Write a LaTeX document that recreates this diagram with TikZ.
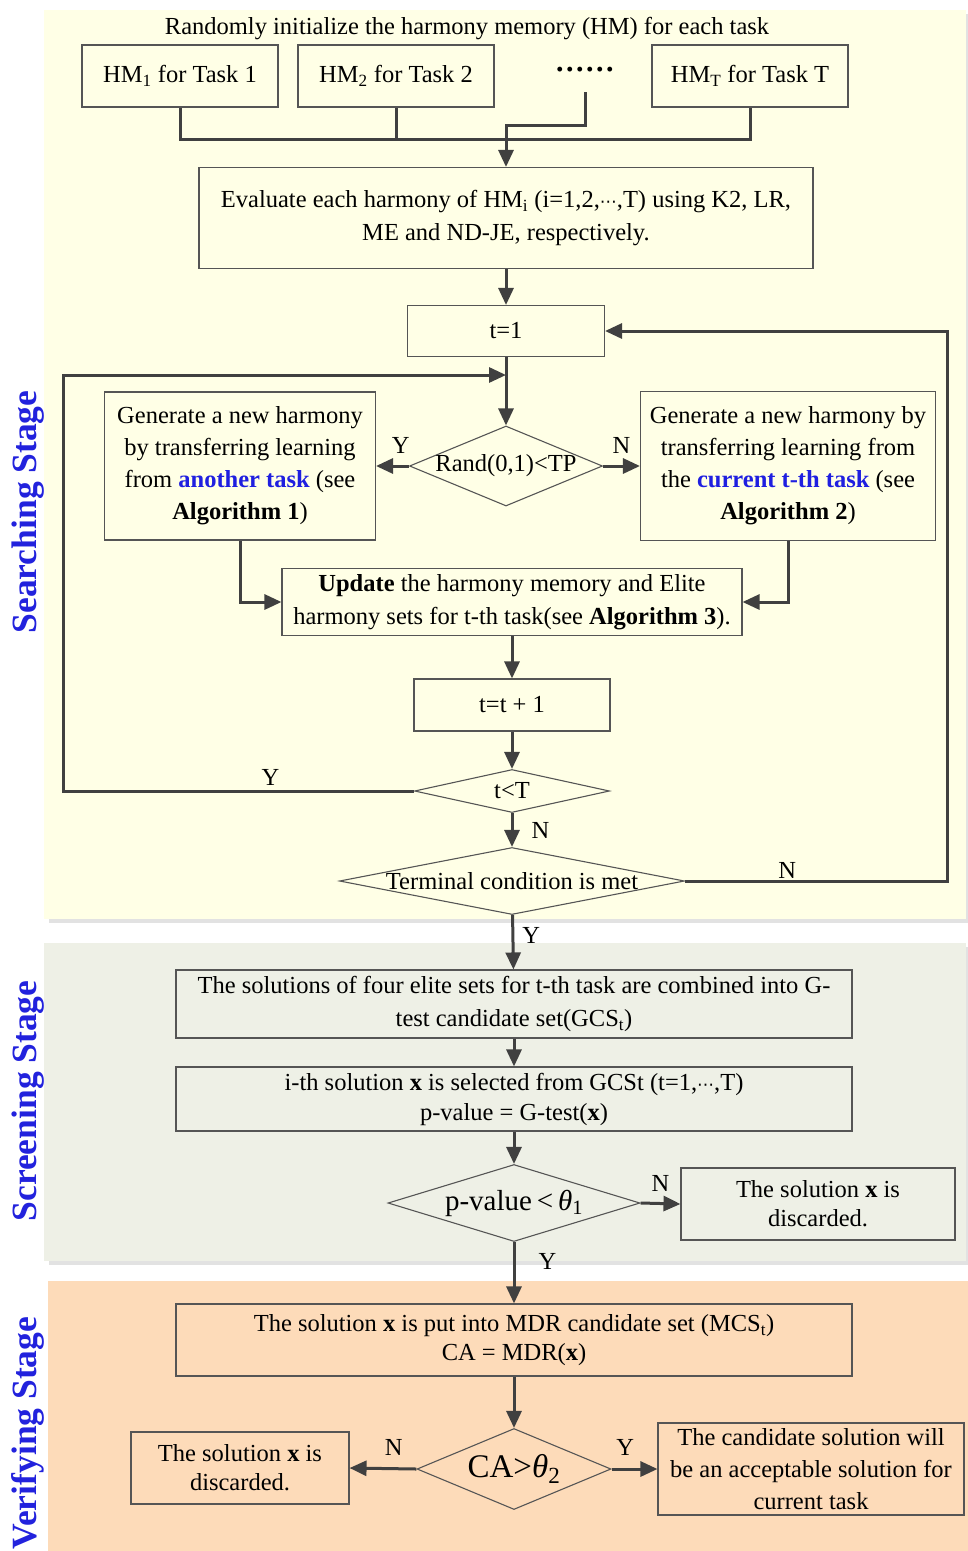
\documentclass[tikz,border=0pt]{standalone}
\usepackage{fontspec}
\setmainfont{Liberation Serif}
\newfontfamily\dejavu{DejaVu Sans}
\usetikzlibrary{arrows.meta, positioning, shapes.geometric}

\definecolor{searchbg}{HTML}{FFFFE6}
\definecolor{screenbg}{HTML}{EEF0E6}
\definecolor{verifybg}{HTML}{FDDBB9}
\definecolor{shadowgray}{HTML}{E2E2E2}
\definecolor{boxgray}{HTML}{555555}
\definecolor{linegray}{HTML}{404040}
\definecolor{txtblue}{HTML}{1F1FE0}
\definecolor{stageblue}{HTML}{2222DD}

\newcommand{\midcdots}{{\dejavu\fontsize{17}{17}\selectfont ⋯}}

\begin{document}
\begin{tikzpicture}[x=1pt, y=-1pt,
  font=\fontsize{24.5}{33}\selectfont,
  box/.style={draw=boxgray, line width=1.1pt, align=center, inner sep=0pt},
  dia/.style={diamond, draw=boxgray, line width=1.1pt, inner sep=0pt},
  e/.style={-{Triangle[length=17pt, width=15pt]}, line width=3pt, draw=linegray},
  ln/.style={line width=3pt, draw=linegray},
  lbl/.style={inner sep=0pt},
  stage/.style={rotate=90, font=\fontsize{35.5}{40}\selectfont\bfseries, text=stageblue}]
  \useasboundingbox (0,0) rectangle (968,1551);

  % stage backgrounds
  \fill[shadowgray] (49,14) rectangle (970,923);
  \fill[searchbg] (44,10) rectangle (966,919);
  \fill[shadowgray] (49,947) rectangle (970,1265);
  \fill[screenbg] (44,943) rectangle (966,1261);
  \fill[verifybg] (48,1281) rectangle (968,1551);
  \node[stage] (searching) at (28,512) {Searching Stage};
  \node[stage] (screening) at (28,1101) {Screening Stage};
  \node[stage] (verifying) at (28,1433) {Verifying Stage};

  % searching stage
  \node (title) at (467,29) {Randomly initialize the harmony memory (HM) for each task};
  \node[box, minimum width=196, minimum height=62] (hm1) at (180,76) {HM\textsubscript{1} for Task 1};
  \node[box, minimum width=196, minimum height=62] (hm2) at (396,76) {HM\textsubscript{2} for Task 2};
  \node[inner sep=0pt, minimum height=38] (dots) at (585,73) {\fontsize{30}{30}\selectfont\textbf{······}};
  \node[box, minimum width=196, minimum height=62] (hmT) at (750,76) {HM\textsubscript{T} for Task T};
  \node[box, minimum width=614, minimum height=101] (eval) at (506,218)
    {Evaluate each harmony of HM\textsubscript{i} (i=1,2,\midcdots,T) using K2, LR,\\ME and ND-JE, respectively.};
  \draw[ln] (hm1.south) -- (hm1.south |- 0,139) -| (hmT.south);
  \draw[ln] (hm2.south) -- (hm2.south |- 0,139);
  \draw[e] (dots.south) |- (eval.north |- 0,125) -- (eval.north);

  \node[box, minimum width=197, minimum height=51] (t1) at (506,331) {t=1};
  \node[dia, minimum width=193, minimum height=80] (rand) at (506,466) {};
  \node (randtxt) at (rand) {Rand(0,1)<TP};
  \node[box, minimum width=271, minimum height=148, font=\fontsize{24.5}{32}\selectfont] (gen1) at (240,466)
    {Generate a new harmony\\by transferring learning\\from \textcolor{txtblue}{\textbf{another task}} (see\\\textbf{Algorithm 1})};
  \node[box, minimum width=295, minimum height=149, font=\fontsize{24.5}{32}\selectfont] (gen2) at (788,466)
    {Generate a new harmony by\\transferring learning from\\the \textcolor{txtblue}{\textbf{current t-th task}} (see\\\textbf{Algorithm 2})};
  \node[box, minimum width=460, minimum height=67] (upd) at (512,602)
    {\textbf{Update} the harmony memory and Elite\\harmony sets for t-th task(see \textbf{Algorithm 3}).};
  \node[box, minimum width=196, minimum height=52] (tinc) at (512,705) {t=t + 1};
  \node[dia, minimum width=195, minimum height=43] (tlt) at (512,791) {};
  \node (tlttxt) at (tlt) {t<T};
  \node[dia, minimum width=345, minimum height=67] (term) at (512,881) {};
  \node (termtxt) at (term) {Terminal condition is met};
  \coordinate (loopin) at (t1.south |- 0,375);

  \draw[e] (eval) -- (t1);
  \draw[e] (t1) -- (rand);
  \draw[e] (rand.west) -- node[lbl, pos=0.25, above=11pt] {Y} (gen1.east);
  \draw[e] (rand.east) -- node[lbl, pos=0.5, above=11pt] {N} (gen2.west);
  \draw[e] (gen1.south) |- (upd.west);
  \draw[e] (gen2.south) |- (upd.east);
  \draw[e] (upd) -- (tinc);
  \draw[e] (tinc) -- (tlt);
  \draw[e] (tlt.west) -- node[lbl, pos=0.41, above=4pt] {Y} ++(-350,0) |- (loopin);
  \draw[e] (tlt) -- node[lbl, midway, right=18pt] {N} (term);
  \draw[e] (term.east) -- node[lbl, pos=0.39, above=1pt] {N} ++(262,0) |- (t1.east);

  % screening stage
  \node[box, minimum width=676, minimum height=68] (gcs) at (514,1004)
    {The solutions of four elite sets for t-th task are combined into G-\\test candidate set(GCS\textsubscript{t})};
  \node[box, minimum width=676, minimum height=64, font=\fontsize{24.5}{30}\selectfont] (sel) at (514,1099)
    {i-th solution \textbf{x} is selected from GCSt (t=1,\midcdots,T)\\p-value = G-test(\textbf{x})};
  \node[dia, minimum width=252, minimum height=77] (pval) at (514,1203) {};
  \node (pvaltxt) at (pval) {\fontsize{29}{29}\selectfont p-value\,<\,{\itshape θ}\textsubscript{1}};
  \node[box, minimum width=274, minimum height=72, font=\fontsize{24.5}{29}\selectfont] (disc1) at (818,1204)
    {The solution \textbf{x} is\\discarded.};
  \draw[e] (term) -- node[lbl, pos=0.38, right=8pt] {Y} (gcs);
  \draw[e] (gcs) -- (sel);
  \draw[e] (sel) -- (pval);
  \draw[e] (pval.east) -- node[lbl, midway, above=11pt] {N} (disc1.west);

  % verifying stage
  \node[box, minimum width=676, minimum height=72, font=\fontsize{24.5}{29}\selectfont] (mcs) at (514,1340)
    {The solution \textbf{x} is put into MDR candidate set (MCS\textsubscript{t})\\CA = MDR(\textbf{x})};
  \node[dia, minimum width=194, minimum height=81] (ca) at (514,1469) {};
  \node (catxt) at (ca) {\fontsize{33}{33}\selectfont CA>{\itshape θ}\textsubscript{2}};
  \node[box, minimum width=218, minimum height=72, font=\fontsize{24.5}{29}\selectfont] (disc2) at (240,1468)
    {The solution \textbf{x} is\\discarded.};
  \node[box, minimum width=306, minimum height=92, font=\fontsize{24.5}{32}\selectfont] (cand) at (811,1469)
    {The candidate solution will\\be an acceptable solution for\\current task};
  \draw[e] (pval) -- node[lbl, pos=0.32, right=23pt] {Y} (mcs);
  \draw[e] (mcs) -- (ca);
  \draw[e] (ca.west) -- node[lbl, pos=0.34, above=12pt] {N} (disc2.east);
  \draw[e] (ca.east) -- node[lbl, pos=0.3, above=12pt] {Y} (cand.west);
\end{tikzpicture}
\end{document}
